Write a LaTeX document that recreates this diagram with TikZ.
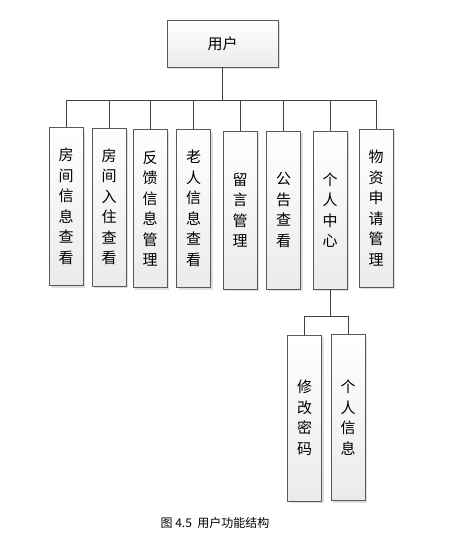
\documentclass[tikz,border=0pt]{standalone}
\usepackage{fontspec}
\setmainfont{Noto Sans CJK SC}
\usetikzlibrary{shadows}
\tikzset{
  box/.style={draw=black!65, line width=0.9pt, top color=white, bottom color=black!8,
    drop shadow={shadow xshift=2pt, shadow yshift=-2pt, fill=black!25},
    align=center, inner sep=0pt, font=\fontsize{15}{20.5}\selectfont},
  tall/.style={box, minimum width=34pt, minimum height=158pt},
  link/.style={draw=black!75, line width=0.8pt}
}
\begin{document}
\begin{tikzpicture}[x=1pt, y=-1pt]
\useasboundingbox (0,0) rectangle (469,543);
\coordinate (bus) at (0,100);
\coordinate (sub) at (0,316);
\node[box, minimum width=111pt, minimum height=47pt] (U_0_0) at (222.5,43.5) {用户};
\node[tall] (U_1_1) at (66,206.5) {房\\间\\信\\息\\查\\看};
\node[tall] (U_1_2) at (109,207) {房\\间\\入\\住\\查\\看};
\node[tall] (U_1_3) at (150,208.5) {反\\馈\\信\\息\\管\\理};
\node[tall] (U_1_4) at (193.5,208.5) {老\\人\\信\\息\\查\\看};
\node[tall] (U_1_5) at (240,210) {留\\言\\管\\理};
\node[tall] (U_1_6) at (283.5,210) {公\\告\\查\\看};
\node[tall] (U_1_7) at (330,210) {个\\人\\中\\心};
\node[tall] (U_1_8) at (376,208) {物\\资\\申\\请\\管\\理};
\node[tall, minimum height=166pt] (U_2_1) at (304.5,418) {修\\改\\密\\码};
\node[tall, minimum height=166pt] (U_2_2) at (348,417.5) {个\\人\\信\\息};
% first level
\draw[link] (U_0_0.south) -- (U_0_0.south |- bus);
\draw[link] (U_1_1.north |- bus) -- (U_1_8.north |- bus);
\foreach \i in {1,...,8}
  \draw[link] (U_1_\i.north) -- (U_1_\i.north |- bus);
% second level
\draw[link] (U_1_7.south) -- (U_1_7.south |- sub);
\draw[link] (U_2_1.north) -- (U_2_1.north |- sub) -- (U_2_2.north |- sub) -- (U_2_2.north);
\node[font=\fontsize{12}{14}\selectfont] (cap) at (215,523) {图 4.5\ \ 用户功能结构};
\end{tikzpicture}
\end{document}
